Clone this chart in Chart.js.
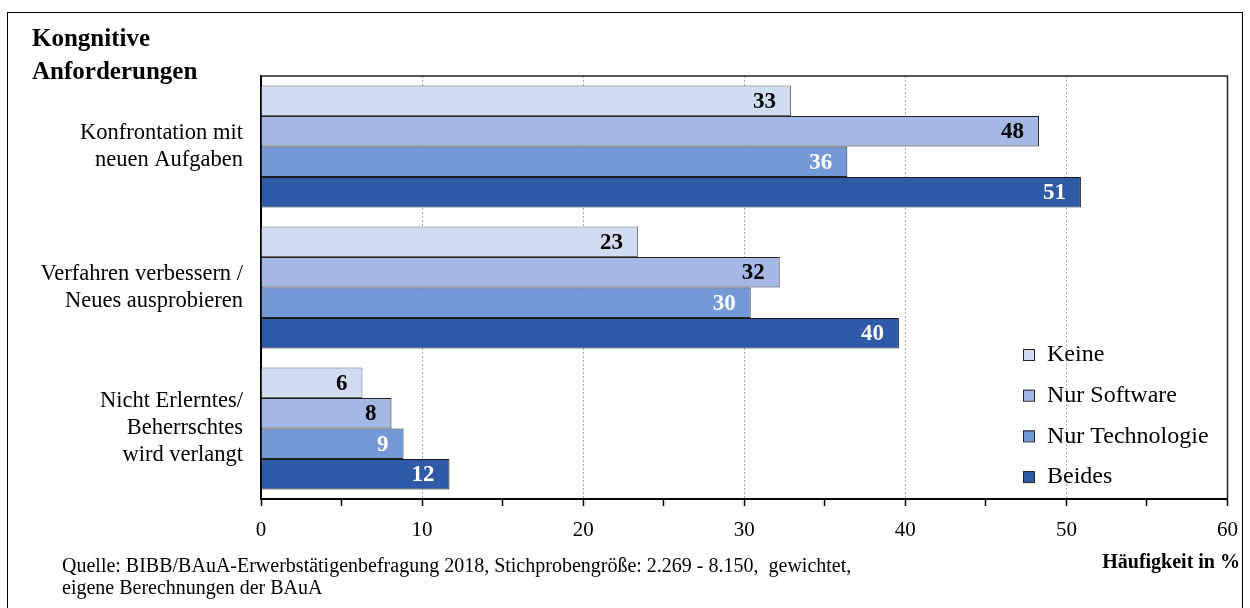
<!DOCTYPE html>
<html>
<head>
<meta charset="utf-8">
<script src="https://cdn.jsdelivr.net/npm/chart.js@4/dist/chart.umd.min.js"></script>
<style>
  html, body { margin:0; padding:0; background:#fff; width:1250px; height:608px; overflow:hidden; }
  #frame { position:absolute; left:7px; top:12px; width:1236px; height:640px; border:1px solid #000; box-sizing:border-box; }
  #wrap { position:absolute; left:0; top:0; width:1250px; height:608px; }
  .txt { position:absolute; font-family:"Liberation Serif","Times New Roman",serif; color:#000; white-space:nowrap; }
  #title { left:32px; top:21px; font-size:25px; font-weight:bold; line-height:33px; }
  #xtitle { right:10px; top:550px; font-size:20px; font-weight:bold; }
  #source { left:62px; top:554px; font-size:20px; line-height:22px; }
</style>
</head>
<body>
<div id="frame"></div>
<div id="wrap"><canvas id="c" width="1250" height="608"></canvas></div>
<div class="txt" id="title">Kongnitive<br>Anforderungen</div>
<div class="txt" id="xtitle">Häufigkeit in %</div>
<div class="txt" id="source">Quelle: BIBB/BAuA-Erwerbstätigenbefragung 2018, Stichprobengröße: 2.269 - 8.150,&nbsp; gewichtet,<br>eigene Berechnungen der BAuA</div>
<script>
const categories = [
  ["Konfrontation mit", "neuen Aufgaben"],
  ["Verfahren verbessern /", "Neues ausprobieren"],
  ["Nicht Erlerntes/", "Beherrschtes", "wird verlangt"]
];
const seriesNames = ["Keine", "Nur Software", "Nur Technologie", "Beides"];
const keine = [32.9, 23.4, 6.3];
const nurSoftware = [48.3, 32.2, 8.1];
const nurTechnologie = [36.4, 30.4, 8.85];
const beides = [50.9, 39.6, 11.7];
const xTicks = [0, 10, 20, 30, 40, 50, 60];

const fills = ["#CFDCF2", "#A3B9E4", "#7598D9", "#2E5AA8"];
const edges = ["#666666", "#222222", "#222222", "#1a1a1a"];
const labelColors = ["#000000", "#000000", "#ffffff", "#ffffff"];
const serif = '"Liberation Serif", "Times New Roman", serif';

const seriesValues = [keine, nurSoftware, nurTechnologie, beides];
const datasets = seriesValues.map((vals, i) => ({
  label: seriesNames[i],
  data: vals,
  backgroundColor: fills[i],
  borderColor: edges[i],
  borderWidth: 1,
  borderSkipped: 'start',
  barPercentage: 1.0,
  categoryPercentage: 0.865
}));

const valueLabels = {
  id: 'valueLabels',
  afterDatasetsDraw(chart) {
    const ctx = chart.ctx;
    ctx.save();
    ctx.font = 'bold 23px ' + serif;
    ctx.textAlign = 'right';
    ctx.textBaseline = 'middle';
    chart.data.datasets.forEach((ds, i) => {
      const meta = chart.getDatasetMeta(i);
      meta.data.forEach((el, j) => {
        ctx.fillStyle = labelColors[i];
        ctx.fillText(String(Math.round(ds.data[j])), el.x - 15, el.y + 1);
      });
    });
    ctx.restore();
  }
};

const frameAndLegend = {
  id: 'frameAndLegend',
  afterDraw(chart) {
    const ctx = chart.ctx;
    const a = chart.chartArea;
    ctx.save();
    ctx.strokeStyle = '#222';
    ctx.lineWidth = 1.5;
    ctx.beginPath();
    ctx.moveTo(a.left, a.top);
    ctx.lineTo(a.right, a.top);
    ctx.lineTo(a.right, a.bottom);
    ctx.stroke();
    // legend
    ctx.font = '24px ' + serif;
    ctx.textAlign = 'left';
    ctx.textBaseline = 'middle';
    seriesNames.forEach((name, i) => {
      const y = 354 + i * 40.7;
      ctx.fillStyle = fills[i];
      ctx.fillRect(1023, y - 5, 11, 11);
      ctx.strokeStyle = '#222';
      ctx.lineWidth = 1;
      ctx.strokeRect(1023.5, y - 4.5, 11, 11);
      ctx.fillStyle = '#000';
      ctx.fillText(name, 1047, y + 1);
    });
    ctx.restore();
  }
};

new Chart(document.getElementById('c'), {
  type: 'bar',
  data: { labels: categories, datasets: datasets },
  plugins: [valueLabels, frameAndLegend],
  options: {
    indexAxis: 'y',
    responsive: false,
    devicePixelRatio: 1,
    animation: false,
    layout: { padding: { left: 0, top: 76, right: 17, bottom: 69 } },
    plugins: { legend: { display: false }, tooltip: { enabled: false } },
    scales: {
      x: {
        min: 0, max: 60,
        afterFit(scale) { scale.height = 40; },
        afterBuildTicks(scale) {
          const t = [];
          for (let v = 0; v <= 60; v += 5) t.push({ value: v });
          scale.ticks = t;
        },
        ticks: {
          autoSkip: false,
          maxRotation: 0,
          padding: 12,
          color: '#000',
          font: { family: serif, size: 21 },
          callback: (v) => xTicks.includes(v) ? String(v) : ''
        },
        grid: {
          drawOnChartArea: true,
          tickLength: 7,
          tickColor: '#000',
          tickWidth: 1.5,
          lineWidth: 1,
          color: (c) => (c.tick && c.tick.value % 10 === 0 && c.tick.value > 0 && c.tick.value < 60) ? '#a6a6a6' : 'rgba(0,0,0,0)'
        },
        border: { display: true, color: '#000', width: 2, dash: [2, 2] }
      },
      y: {
        afterFit(scale) { scale.width = 261; },
        ticks: {
          padding: 10,
          color: '#000',
          font: { family: serif, size: 22.5, lineHeight: 1.2 }
        },
        grid: { display: false },
        border: { display: true, color: '#000', width: 2 }
      }
    }
  }
});
</script>
</body>
</html>
